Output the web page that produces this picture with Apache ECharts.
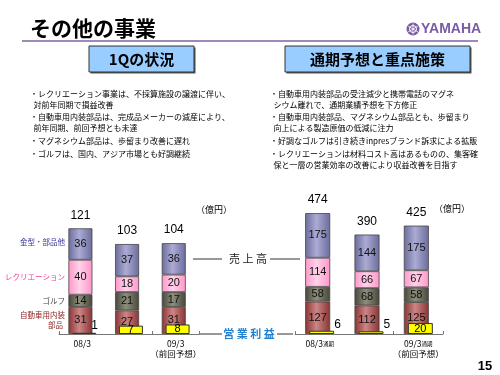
<!DOCTYPE html>
<html>
<head>
<meta charset="utf-8">
<script src="https://cdn.jsdelivr.net/npm/echarts@6/dist/echarts.min.js"></script>
<style>
  html, body { margin: 0; padding: 0; background: #fff; }
  #chart { width: 500px; height: 375px; }
</style>
</head>
<body>
<div id="chart"></div>
<script>
// 1Q（四半期）
const catsQ = ['08/3', '09/3', '09/3\n（前回予想）'];
const autoQ = [31, 27, 31];      // 自動車用内装部品
const golfQ = [14, 21, 17];      // ゴルフ
const recQ = [40, 18, 20];       // レクリエーション
const moldQ = [36, 37, 36];      // 金型・部品他
const salesQ = [121, 103, 104];  // 売上高
const profitQ = [1, 7, 8];       // 営業利益

// 通期
const catsFY = ['08/3通期', '09/3通期\n（今回予想）', '09/3通期\n（前回予想）'];
const autoFY = [127, 112, 125];
const golfFY = [58, 68, 58];
const recFY = [114, 66, 67];
const moldFY = [175, 144, 175];
const salesFY = [474, 390, 425];
const profitFY = [6, 5, 20];

const leftNotes = [
    '・レクリエーション事業は、不採算施設の譲渡に伴い、',
    '  対前年同期で損益改善',
    '・自動車用内装部品は、完成品メーカーの減産により、',
    '  前年同期、前回予想とも未達',
    '・マグネシウム部品は、歩留まり改善に遅れ',
    '・ゴルフは、国内、アジア市場とも好調継続'
];
const rightNotes = [
    '・自動車用内装部品の受注減少と携帯電話のマグネ',
    '  シウム離れで、通期業績予想を下方修正',
    '・自動車用内装部品、マグネシウム部品とも、歩留まり',
    '  向上による製造原価の低減に注力',
    '・好調なゴルフは引き続きinpresブランド訴求による拡販',
    '・レクリエーションは材料コスト高はあるものの、集客確',
    '  保と一層の営業効率の改善により収益改善を目指す'
];

const JP = "'Noto Sans CJK JP', sans-serif";
const NUM = "'Liberation Sans', 'Noto Sans CJK JP', sans-serif";
const RED = '#ff3333';

function grad(edge, mid) {
    return new echarts.graphic.LinearGradient(0, 0, 1, 0, [
        { offset: 0, color: edge },
        { offset: 0.45, color: mid },
        { offset: 1, color: edge }
    ]);
}
const colMold = () => grad('#6c6c9e', '#ababd3');
const colRec = () => grad('#ff96c8', '#ffd2ea');
const colGolf = () => grad('#47473a', '#8e8e7c');
const colAuto = () => grad('#883434', '#cc8585');

function segment(data, xi, yi, color, w, stack) {
    return {
        type: 'bar',
        data: data,
        xAxisIndex: xi,
        yAxisIndex: yi,
        stack: stack,
        barWidth: w,
        barGap: '-84%',
        itemStyle: { color: color, borderColor: '#444', borderWidth: 0.8 },
        label: { show: true, position: 'inside', color: '#111', fontSize: 11, fontFamily: NUM }
    };
}

function profitSeries(data, xi, yi, w, max, h) {
    return {
        type: 'bar',
        data: data.map(v => {
            const inside = v / max * h > 6;
            return {
                value: v,
                label: inside
                    ? { position: 'inside', fontSize: 11 }
                    : { position: 'right', distance: 0, offset: [v < 3 ? -5 : 0, -8], fontSize: 12 }
            };
        }),
        xAxisIndex: xi,
        yAxisIndex: yi,
        barWidth: w,
        barGap: '-84%',
        z: 3,
        itemStyle: { color: '#ffff00', borderColor: '#333', borderWidth: 1 },
        label: { show: true, color: '#000', fontFamily: NUM }
    };
}

// 合計値（売上高）は積み上げの一番上に 0 の系列を置いてラベルだけ出す
function totalSeries(totals, xi, yi, w, stack) {
    return {
        type: 'bar', xAxisIndex: xi, yAxisIndex: yi, stack: stack, barWidth: w, barGap: '-84%',
        data: totals.map(() => 0),
        itemStyle: { color: 'transparent' },
        silent: true,
        label: {
            show: true, position: 'top', distance: 7, color: '#000', fontSize: 12, fontFamily: NUM,
            formatter: p => totals[p.dataIndex]
        }
    };
}

function xAxisFor(cats, gi, colors, fy) {
    return {
        type: 'category',
        gridIndex: gi,
        data: cats.map((c, i) => ({ value: c, textStyle: { color: colors[i] } })),
        axisLine: { lineStyle: { color: '#777', width: 1 } },
        axisTick: { show: true, inside: true, length: 3, lineStyle: { color: '#777' } },
        axisLabel: {
            margin: 5, fontSize: 8.5, lineHeight: 10, fontFamily: JP,
            formatter: v => v.split('\n').map(line =>
                fy && line.indexOf('通期') >= 0
                    ? `{n|${line.replace('通期', '')}}{s|通期}`
                    : `{n|${line}}`).join('\n'),
            rich: { n: { fontSize: 8.5, lineHeight: 10 }, s: { fontSize: 5.5, lineHeight: 10 } }
        }
    };
}

function hiddenY(gi, max) {
    return { type: 'value', gridIndex: gi, min: 0, max: max, show: false };
}

// テキスト類
const graphics = [];
function txt(text, x, y, size, fill, extra) {
    graphics.push({
        type: 'text',
        style: Object.assign({
            text: text, x: x, y: y, fill: fill,
            font: `${size}px ${JP}`, align: 'left', verticalAlign: 'middle'
        }, extra || {})
    });
}
function line(x1, y1, x2, y2, stroke, w) {
    graphics.push({ type: 'line', shape: { x1, y1, x2, y2 }, style: { stroke: stroke, lineWidth: w || 1 } });
}

txt('その他の事業', 30, 28, 21, '#000', { font: `bold 21px ${JP}` });
line(22, 41, 478, 41, '#7f62a3', 1.5);

// YAMAHA ロゴ
graphics.push({ type: 'circle', shape: { cx: 413, cy: 29, r: 6.5 }, style: { fill: '#7b5aa6' } });
graphics.push({ type: 'circle', shape: { cx: 413, cy: 29, r: 3.5 }, style: { fill: 'none', stroke: '#fff', lineWidth: 1 } });
line(413, 23.5, 413, 34.5, '#fff', 0.8);
line(408.2, 26.2, 417.8, 31.8, '#fff', 0.8);
line(408.2, 31.8, 417.8, 26.2, '#fff', 0.8);
txt('YAMAHA', 421, 29.5, 14, '#7b5aa6', { font: `bold 14px 'Liberation Sans Narrow', 'Liberation Sans', sans-serif` });

// 見出しボックス
[[89, 105, '1Qの状況'], [285, 185, '通期予想と重点施策']].forEach(b => {
    graphics.push({ type: 'rect', shape: { x: b[0] + 1.5, y: 47.5, width: b[1], height: 26 }, style: { fill: '#555' } });
    graphics.push({ type: 'rect', shape: { x: b[0], y: 46, width: b[1], height: 26 }, style: { fill: '#99ccff', stroke: '#333', lineWidth: 1 } });
    txt(b[2], b[0] + b[1] / 2, 59, 15, '#000', { font: `bold 15px ${JP}`, align: 'center' });
});

const noteY = [94, 105, 117, 128, 141, 154, 165];
leftNotes.forEach((t, i) => txt(t, 30, noteY[i], 8, '#000'));
rightNotes.forEach((t, i) => txt(t, 270, noteY[i], 8, '#000'));

// 凡例ラベル（左）
txt('金型・部品他', 65, 242, 7.5, '#333399', { align: 'right' });
txt('レクリエーション', 65, 277, 7.5, '#ff3399', { align: 'right' });
txt('ゴルフ', 65, 301, 7.5, '#444', { align: 'right' });
txt('自動車用内装', 65, 315, 7.5, '#8b1a1a', { align: 'right' });
txt('部品', 63, 325, 7.5, '#8b1a1a', { align: 'right' });

txt('（億円）', 214, 210, 9, '#000', { align: 'center' });
txt('（億円）', 452, 209, 9, '#000', { align: 'center' });

line(193, 259, 222, 259, '#333', 1);
txt('売 上 高', 248, 259, 11, '#222', { align: 'center' });
line(270, 259, 300, 259, '#333', 1);

line(199, 334, 222, 334, '#333', 1);
txt('営 業 利 益', 249, 334, 11, '#1f7fd0', { align: 'center', font: `bold 11px ${JP}` });
line(277, 334, 293, 334, '#333', 1);

txt('15', 485, 366, 13, '#000', { align: 'center', font: `bold 13px 'Liberation Sans', sans-serif` });

const chart = echarts.init(document.getElementById('chart'));
const option = {
    animation: false,
    textStyle: { fontFamily: NUM },
    grid: [
        { left: 59, right: 301, top: 203, bottom: 41 },
        { left: 295, right: 57, top: 181, bottom: 41 }
    ],
    xAxis: [
        xAxisFor(catsQ, 0, ['#000', RED, '#000'], false),
        xAxisFor(catsFY, 1, ['#000', RED, '#000'], true)
    ],
    yAxis: [hiddenY(0, 150), hiddenY(0, 110), hiddenY(1, 600), hiddenY(1, 280)],
    series: [
        segment(autoQ, 0, 0, colAuto(), 24, 'q'),
        segment(golfQ, 0, 0, colGolf(), 24, 'q'),
        segment(recQ, 0, 0, colRec(), 24, 'q'),
        segment(moldQ, 0, 0, colMold(), 24, 'q'),
        totalSeries(salesQ, 0, 0, 24, 'q'),
        profitSeries(profitQ, 0, 1, 24, 110, 131),
        segment(autoFY, 1, 2, colAuto(), 25, 'fy'),
        segment(golfFY, 1, 2, colGolf(), 25, 'fy'),
        segment(recFY, 1, 2, colRec(), 25, 'fy'),
        segment(moldFY, 1, 2, colMold(), 25, 'fy'),
        totalSeries(salesFY, 1, 2, 25, 'fy'),
        profitSeries(profitFY, 1, 3, 25, 280, 153)
    ],
    graphic: graphics
};
chart.setOption(option);
</script>
</body>
</html>
